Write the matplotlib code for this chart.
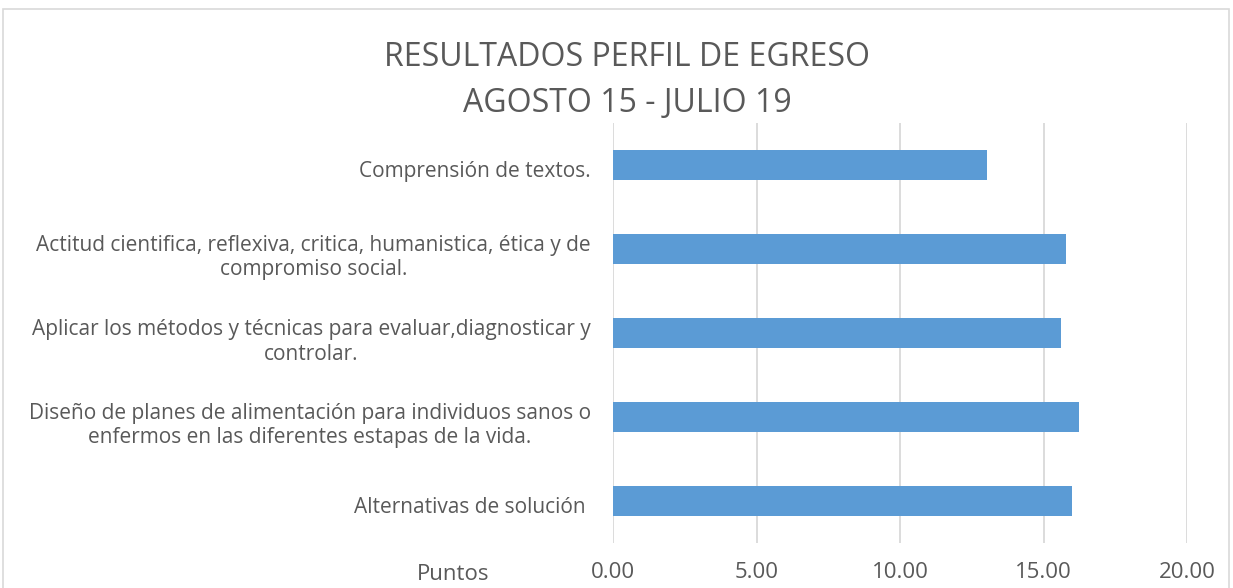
import matplotlib.pyplot as plt
from matplotlib.patches import Rectangle
from matplotlib.transforms import ScaledTranslation

# data (top to bottom)
categorias = [
    "Comprensión de textos.",
    "Actitud cientifica, reflexiva, critica, humanistica, ética y de\ncompromiso social.",
    "Aplicar los métodos y técnicas para evaluar,diagnosticar y\ncontrolar.",
    "Diseño de planes de alimentación para individuos sanos o\nenfermos en las diferentes estapas de la vida.",
    "Alternativas de solución ",
]
puntos = [13.02, 15.80, 15.62, 16.24, 16.01]
ticks_x = [0, 5, 10, 15, 20]
tick_labels = ["0.00", "5.00", "10.00", "15.00", "20.00"]

texto = "#595959"
azul = "#5B9BD5"
gris = "#D9D9D9"

fig = plt.figure(figsize=(12.33, 5.88), dpi=100)
W, H = 1233, 588

# chart frame
fig.patches.append(Rectangle((3 / W, -0.05), (1229 - 3) / W, 1.05 - 9 / H,
                             transform=fig.transFigure, fill=False,
                             edgecolor=gris, linewidth=1.2))

ax = fig.add_axes([613 / W, 1 - 543 / H, (1187 - 613) / W, (543 - 123) / H])

y = list(range(len(categorias)))[::-1]
ax.barh(y, puntos, height=0.355, color=azul, zorder=3)
ax.set_xlim(0, 20)
ax.set_ylim(-0.5, len(categorias) - 0.5)

ax.set_xticks(ticks_x)
ax.set_xticklabels(tick_labels, fontsize=16, color=texto, family="Open Sans")
ax.set_yticks(y)
ax.set_yticklabels(categorias, fontsize=15, color=texto, family="Open Sans",
                   ha="right", multialignment="center", linespacing=1.25)
ax.tick_params(axis="both", length=0)
ax.tick_params(axis="x", pad=14)
ax.tick_params(axis="y", pad=16)

# labels sit a few pixels below the bar centres in the original
shift = ScaledTranslation(0, -4 / 100, fig.dpi_scale_trans)
for lab in ax.get_yticklabels():
    lab.set_transform(lab.get_transform() + shift)

ax.grid(axis="x", color=gris, linewidth=1.3, zorder=0)
for s in ax.spines.values():
    s.set_visible(False)

fig.text(453 / W, 1 - 574 / H, "Puntos", fontsize=16, color=texto,
         family="Open Sans", ha="center", va="center")
fig.text(627 / W, 1 - 57 / H, "RESULTADOS PERFIL DE EGRESO", fontsize=23,
         color=texto, family="Open Sans", ha="center", va="center")
fig.text(627 / W, 1 - 104 / H, "AGOSTO 15 - JULIO 19", fontsize=23,
         color=texto, family="Open Sans", ha="center", va="center")

fig.savefig("out.png", dpi=100)
